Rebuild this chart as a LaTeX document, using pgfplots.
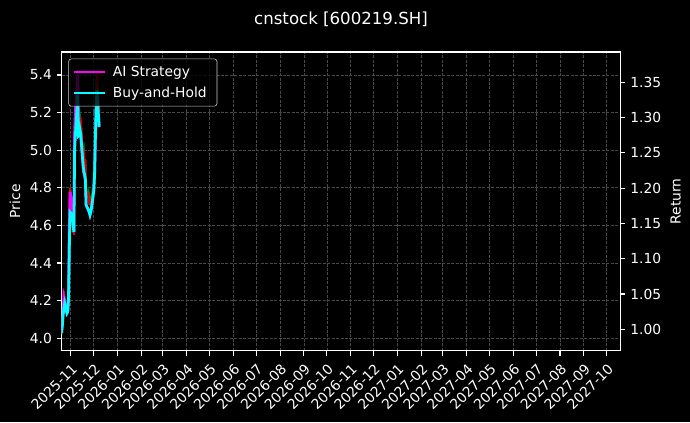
\documentclass[border=0pt]{standalone}
\usepackage{fontspec}
\setmainfont{DejaVu Sans}
\usepackage{pgfplots}
\usepackage{pgfplotstable}
\pgfplotsset{compat=1.18}

\definecolor{aimag}{RGB}{255,0,255}
\definecolor{bhcyan}{RGB}{0,255,255}
\definecolor{upgreen}{RGB}{0,128,0}
\definecolor{downred}{RGB}{220,0,0}
\definecolor{gridgray}{RGB}{72,72,72}

% day 0 = 2025-11-01
\pgfplotstableread{
day price bh ai
-12 4.02 0.995 0.995
-11 4.07 1.006 1.008
-10 4.13 1.020 1.028
-9 4.25 1.030 1.045
-8 4.19 1.037 1.040
-5 4.13 1.023 1.023
-4 4.14 1.025 1.025
-3 4.21 1.042 1.042
-2 4.50 1.112 1.140
-1 4.80 1.166 1.195
2 4.70 1.162 1.175
3 4.64 1.148 1.148
4 4.55 1.138 1.138
5 5.07 1.254 1.280
6 5.15 1.275 1.310
9 5.38 1.332 1.360
10 5.15 1.274 1.274
11 5.15 1.275 1.275
12 5.18 1.282 1.282
13 5.15 1.275 1.275
16 4.98 1.233 1.233
17 5.00 1.223 1.223
18 4.92 1.219 1.219
19 4.95 1.212 1.212
20 4.75 1.176 1.176
23 4.78 1.169 1.169
24 4.71 1.166 1.166
25 4.74 1.162 1.162
26 4.71 1.166 1.166
27 4.73 1.172 1.172
30 4.84 1.197 1.197
31 4.93 1.219 1.219
32 5.12 1.268 1.268
33 5.30 1.311 1.311
34 5.41 1.339 1.339
37 5.20 1.287 1.287
}\prices

\pgfplotstableread{
day price
-9 4.25
-8 4.19
-5 4.13
nan nan
-1 4.80
2 4.70
3 4.64
4 4.55
nan nan
9 5.38
10 5.15
nan nan
12 5.18
13 5.15
16 4.98
nan nan
17 5.00
18 4.92
nan nan
19 4.95
20 4.75
nan nan
23 4.78
24 4.71
nan nan
25 4.74
26 4.71
nan nan
34 5.41
37 5.20
}\downs

\pgfplotsset{
  darkax/.style={
    at={(0,0)}, anchor=south west,
    scale only axis, width=5.59in, height=2.987in,
    xmin=-12, xmax=717,
    axis line style={white, line width=0.8pt},
    tick style={white, line width=0.8pt},
    major tick length=3.5pt, tick align=outside,
    ticklabel style={white},
    label style={white},
    /pgf/number format/assume math mode=true,
    unbounded coords=jump,
  }
}

\begin{document}
\begin{tikzpicture}
\fill[black] (-0.616in,-0.713in) rectangle (6.284in,3.507in);
\useasboundingbox (-0.616in,-0.713in) rectangle (6.284in,3.507in);

\begin{axis}[
    darkax,
    ymin=3.934, ymax=5.522,
    xtick pos=bottom, ytick pos=left,
    xtick={0,30,61,92,120,151,181,212,242,273,304,334,365,395,426,457,485,516,546,577,607,638,669,699},
    xticklabels={2025-11,2025-12,2026-01,2026-02,2026-03,2026-04,2026-05,2026-06,2026-07,2026-08,2026-09,2026-10,2026-11,2026-12,2027-01,2027-02,2027-03,2027-04,2027-05,2027-06,2027-07,2027-08,2027-09,2027-10},
    xticklabel style={rotate=45, anchor=north east, inner sep=2pt},
    xticklabel shift=2pt,
    ytick={4.0,4.2,4.4,4.6,4.8,5.0,5.2,5.4},
    yticklabel style={/pgf/number format/.cd, fixed, fixed zerofill, precision=1},
    grid=major,
    major grid style={gridgray, dash pattern=on 2.2pt off 1pt, line width=0.5pt},
    ylabel={Price},
]
\addplot[upgreen, line width=1.5pt] table[x=day, y=price] {\prices};
\addplot[downred, line width=1.5pt] table[x=day, y=price] {\downs};
\end{axis}

\begin{axis}[
    darkax,
    ymin=0.9697, ymax=1.393,
    axis x line=none, axis y line*=right,
    ytick={1.00,1.05,1.10,1.15,1.20,1.25,1.30,1.35},
    yticklabel style={/pgf/number format/.cd, fixed, fixed zerofill, precision=2},
    ylabel={Return},
    legend image code/.code={\draw[#1, line width=2pt] (0pt,0pt) -- (22.5pt,0pt);},
    legend style={at={(0.0121,0.978)}, anchor=north west,
      fill=black, fill opacity=0.8, text opacity=1, draw opacity=1,
      draw=white!80!black, rounded corners=2pt, text=white,
      inner xsep=3pt, inner ysep=3pt, row sep=2.2pt,
      nodes={inner xsep=4.5pt}},
    legend cell align=left,
]
\addplot[aimag, line width=2pt] table[x=day, y=ai] {\prices};
\addplot[bhcyan, line width=2pt] table[x=day, y=bh] {\prices};
\legend{AI Strategy, Buy-and-Hold}
\end{axis}

\node[white, font=\large, anchor=base] at (2.794in,3.257in) {cnstock [600219.SH]};
\end{tikzpicture}
\end{document}
